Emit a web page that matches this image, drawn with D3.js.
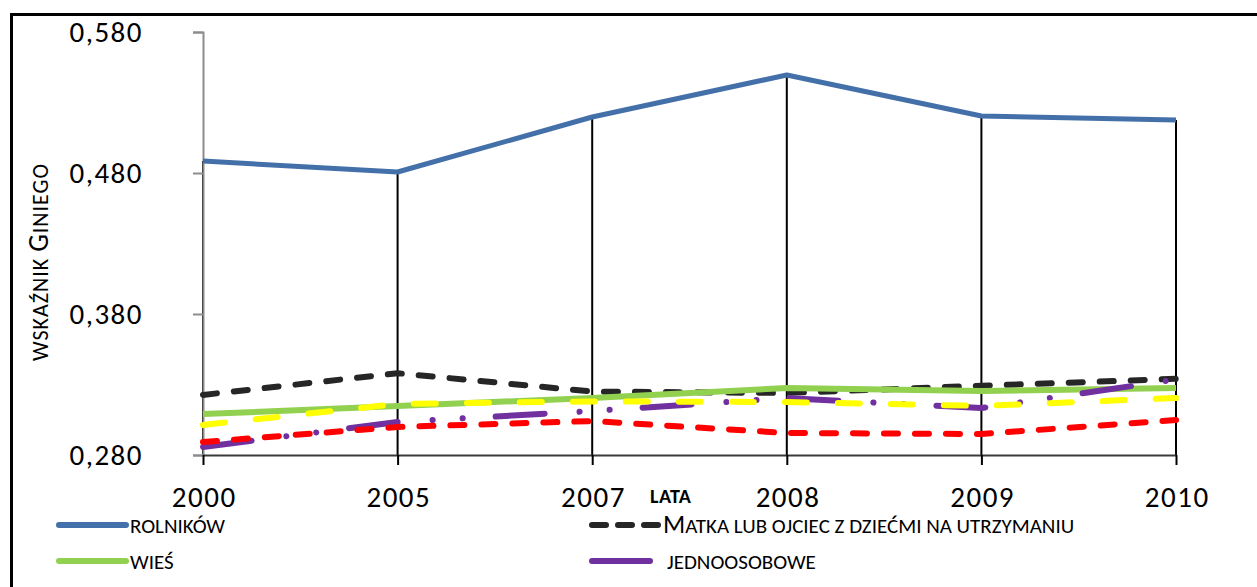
<!DOCTYPE html>
<html>
<head>
<meta charset="utf-8">
<script src="https://cdn.jsdelivr.net/npm/d3@7"></script>
<style>
    body { margin: 0; background: #fff; }
    svg text { font-family: Carlito, Calibri, "Liberation Sans Narrow", "Open Sans", sans-serif; }
</style>
</head>
<body>
<div id="chart-area"></div>
<script>
// data
var years = ["2000", "2005", "2007", "2008", "2009", "2010"];
var yTicks = [0.28, 0.38, 0.48, 0.58];

var rolnikow = [0.4885, 0.4807, 0.5197, 0.5495, 0.5204, 0.5176];
var matka = [0.3226, 0.3380, 0.3250, 0.3240, 0.3291, 0.3340];
var wies = [0.3090, 0.3148, 0.3204, 0.3275, 0.3254, 0.3275];
var jednoosobowe = [0.2857, 0.3034, 0.3112, 0.3204, 0.3133, 0.3335];
var czerwona = [0.2892, 0.2999, 0.3041, 0.2956, 0.2949, 0.3048];
var zolta = [0.3013, 0.3162, 0.3180, 0.3176, 0.3148, 0.3204];

// legend labels: [first letter, rest] (rest is drawn as small capitals)
var legendNames = [["", "ROLNIKÓW"], ["M", "ATKA LUB OJCIEC Z DZIEĆMI NA UTRZYMANIU"], ["", "WIEŚ"], ["", "JEDNOOSOBOWE"]];

function init() {
    var svgWidth = 1257;
    var svgHeight = 587;

    var svg = d3.select("#chart-area")
        .append("svg")
        .attr("width", svgWidth)
        .attr("height", svgHeight);

    // outer frame (only top and left edges are visible)
    svg.append("path")
        .attr("d", "M11.5,600 L11.5,14.5 L1260,14.5")
        .attr("fill", "none")
        .attr("stroke", "#000")
        .attr("stroke-width", 3);

    var xScale = d3.scalePoint()
        .domain(years)
        .range([203, 1176]);

    var yScale = d3.scaleLinear()
        .domain([0.28, 0.58])
        .range([455, 32]);

    // drop lines from top series
    svg.append("g")
        .selectAll("line")
        .data(years)
        .enter()
        .append("line")
        .attr("x1", d => xScale(d))
        .attr("x2", d => xScale(d))
        .attr("y1", (d, i) => yScale(d3.max([rolnikow[i], matka[i], wies[i], jednoosobowe[i], czerwona[i], zolta[i]])))
        .attr("y2", yScale(0.28))
        .attr("stroke", "#000")
        .attr("stroke-width", 2);

    // y axis
    var leftAxis = d3.axisLeft(yScale)
        .tickValues(yTicks)
        .tickSize(10)
        .tickPadding(50)
        .tickFormat(d => d3.format(".3f")(d).replace(".", ","));

    var yAxis = svg.append("g")
        .attr("transform", "translate(203,0)")
        .call(leftAxis);
    yAxis.select(".domain").attr("stroke", "#8c8c8c").attr("stroke-width", 2);
    yAxis.selectAll(".tick line").attr("stroke", "#8c8c8c").attr("stroke-width", 2);
    yAxis.selectAll(".tick text")
        .attr("font-size", "29px")
        .attr("letter-spacing", "1.5px")
        .attr("fill", "#000");

    // x axis
    var botAxis = d3.axisBottom(xScale)
        .tickSize(10)
        .tickSizeOuter(0)
        .tickPadding(21);

    var xAxis = svg.append("g")
        .attr("transform", "translate(0,455)")
        .call(botAxis);
    xAxis.select(".domain").attr("stroke", "#3a3a3a").attr("stroke-width", 2);
    xAxis.selectAll(".tick line").attr("stroke", "#000").attr("stroke-width", 2);
    xAxis.selectAll(".tick text")
        .attr("font-size", "29px")
        .attr("letter-spacing", "1.5px")
        .attr("dx", "0.75px")
        .attr("fill", "#000");

    // series
    var series = [
        {values: rolnikow, color: "#4470a9", width: 5, dash: null},
        {values: matka, color: "#262626", width: 6, dash: "14 17"},
        {values: wies, color: "#92d050", width: 6, dash: null},
        {values: jednoosobowe, color: "#7030a0", width: 6, dash: "49 35 0.1 30 0.1 33"},
        {values: czerwona, color: "#ff0000", width: 6, dash: "14 17"},
        {values: zolta, color: "#ffff00", width: 6, dash: "22 31"}
    ];

    var line = d3.line()
        .x((d, i) => xScale(years[i]))
        .y(d => yScale(d));

    svg.append("g")
        .selectAll("path")
        .data(series)
        .enter()
        .append("path")
        .attr("d", d => line(d.values))
        .attr("fill", "none")
        .attr("stroke", d => d.color)
        .attr("stroke-width", d => d.width)
        .attr("stroke-linecap", d => d.dash ? "round" : "butt")
        .attr("stroke-linejoin", "round")
        .attr("stroke-dasharray", d => d.dash);

    // axis titles
    var yTitle = svg.append("text")
        .attr("transform", "translate(48,262) rotate(-90)")
        .attr("text-anchor", "middle")
        .attr("font-size", "22px")
        .attr("letter-spacing", "1px");
    yTitle.append("tspan").text("WSKAŹNIK ");
    yTitle.append("tspan").attr("font-size", "28px").text("G");
    yTitle.append("tspan").text("INIEGO");

    svg.append("text")
        .attr("x", 650)
        .attr("y", 503)
        .attr("font-size", "20px")
        .attr("font-weight", "bold")
        .attr("letter-spacing", "0.5px")
        .text("LATA");

    // legend
    var legendPos = [
        {x: 57, y: 525}, {x: 590, y: 525},
        {x: 57, y: 561}, {x: 590, y: 561}
    ];
    var legendSeries = [series[0], series[1], series[2], series[3]];

    var legend = svg.append("g")
        .selectAll("g")
        .data(legendSeries)
        .enter()
        .append("g")
        .attr("transform", (d, i) => "translate(" + legendPos[i].x + "," + legendPos[i].y + ")");

    legend.append("line")
        .attr("x1", 2)
        .attr("x2", (d, i) => i == 3 ? 60 : 69)
        .attr("stroke", d => d.color)
        .attr("stroke-width", 6)
        .attr("stroke-linecap", "round")
        .attr("stroke-dasharray", (d, i) => i == 1 ? "14 12" : null);

    var legendText = legend.append("text")
        .attr("x", (d, i) => i == 3 ? 77 : 73)
        .attr("y", 8)
        .attr("font-size", "21px");
    legendText.append("tspan")
        .attr("font-size", "26px")
        .text((d, i) => legendNames[i][0]);
    legendText.append("tspan")
        .text((d, i) => legendNames[i][1]);
}

window.addEventListener('load', init, false)
</script>
</body>
</html>
